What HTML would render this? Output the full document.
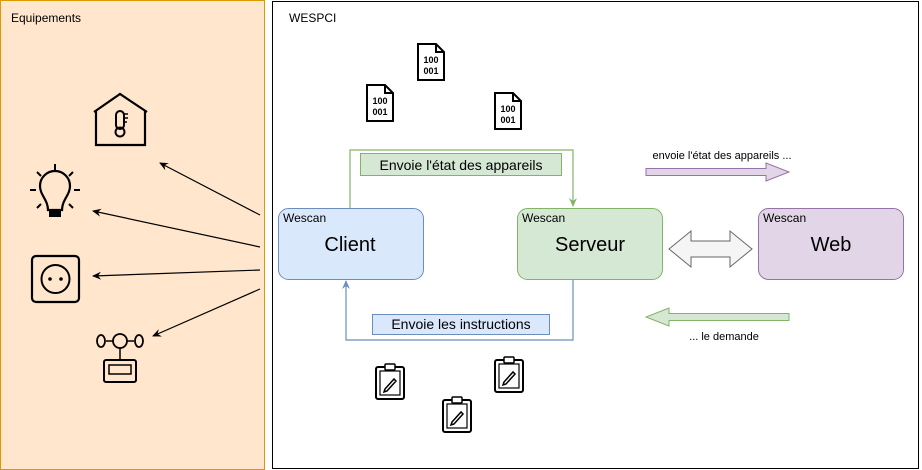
<!DOCTYPE html>
<html><head><meta charset="utf-8"><style>
html,body{margin:0;padding:0;background:#fff;}
svg{display:block;font-family:"Liberation Sans",Arial,sans-serif;}
</style></head><body>
<svg width="922" height="470" viewBox="0 0 922 470" xmlns="http://www.w3.org/2000/svg">
<defs>
<marker id="ab" markerWidth="10" markerHeight="10" refX="8" refY="5" orient="auto" markerUnits="userSpaceOnUse"><path d="M0,1 L9,5 L0,9 L3,5z" fill="#000"/></marker>
<marker id="ag" markerWidth="10" markerHeight="10" refX="8" refY="5" orient="auto" markerUnits="userSpaceOnUse"><path d="M0,1 L9,5 L0,9 L3,5z" fill="#82b366"/></marker>
<marker id="al" markerWidth="10" markerHeight="10" refX="8" refY="5" orient="auto" markerUnits="userSpaceOnUse"><path d="M0,1 L9,5 L0,9 L3,5z" fill="#6c8ebf"/></marker>
<g id="file"><path d="M0,0 H18 L26,8 V36 H0Z M18,0 V8 H26" fill="#fff" stroke="#000" stroke-width="2"/><text x="13" y="19" font-size="9" font-weight="bold" text-anchor="middle">100</text><text x="13" y="30" font-size="9" font-weight="bold" text-anchor="middle">001</text></g>
<g id="clip"><rect x="0" y="4" width="28" height="32" rx="2" fill="#fff" stroke="#000" stroke-width="2"/><rect x="4" y="8" width="20" height="24" fill="none" stroke="#000" stroke-width="1.2"/><rect x="9" y="1" width="10" height="6" rx="1" fill="#fff" stroke="#000" stroke-width="1.5"/><path d="M9,26 L18,16 L20,18 L11,28 L8,29Z" fill="none" stroke="#000" stroke-width="1.5"/></g>
</defs>
<rect x="0.5" y="0.5" width="264" height="469" fill="#ffe6cc" stroke="#d79b00"/>
<text x="11" y="22" font-size="12">Equipements</text>
<rect x="272.5" y="1.5" width="646" height="467" fill="#fff" stroke="#000"/>
<text x="289" y="22" font-size="12">WESPCI</text>

<!-- house -->
<path d="M94,112 L120,94 L147,112 M96,110 V145 H145 V110" fill="none" stroke="#000" stroke-width="2.2"/>
<rect x="116" y="111" width="8" height="18" rx="4" fill="none" stroke="#000" stroke-width="2"/>
<circle cx="120" cy="132" r="4.5" fill="none" stroke="#000" stroke-width="2"/>
<path d="M124,114 H128 M124,118 H128 M124,122 H127" stroke="#000" stroke-width="1.5"/>
<!-- bulb -->
<path d="M48,210 C48,200 40,195 40,186 A15,15 0 1 1 70,186 C70,195 62,200 62,210Z" fill="none" stroke="#000" stroke-width="2.2"/>
<rect x="49" y="210" width="12" height="7" fill="#000"/>
<path d="M55,164 V171 M30,190 H36 M74,190 H80 M37,172 L41,176 M73,172 L69,176 M37,208 L41,204 M73,208 L69,204" stroke="#000" stroke-width="2"/>
<!-- socket -->
<rect x="32" y="256" width="47" height="46" rx="4" fill="none" stroke="#000" stroke-width="2.2"/>
<circle cx="55.5" cy="279" r="14" fill="none" stroke="#000" stroke-width="2"/>
<circle cx="50" cy="279" r="1.8"/><circle cx="61" cy="279" r="1.8"/>
<!-- anemometer -->
<path d="M106,341 H113 M127,341 H134 M120,348 V360" stroke="#000" stroke-width="1.5"/>
<circle cx="120" cy="341" r="7" fill="none" stroke="#000" stroke-width="1.8"/>
<ellipse cx="101" cy="341" rx="4" ry="6" fill="none" stroke="#000" stroke-width="1.8"/>
<ellipse cx="139" cy="341" rx="4" ry="6" fill="none" stroke="#000" stroke-width="1.8"/>
<rect x="104" y="360" width="32" height="22" rx="2" fill="none" stroke="#000" stroke-width="2"/>
<rect x="109" y="365" width="22" height="9" fill="none" stroke="#000" stroke-width="1.5"/>

<!-- black arrows -->
<g stroke="#000" stroke-width="1.2" marker-end="url(#ab)">
<line x1="260" y1="215" x2="160" y2="163"/>
<line x1="260" y1="247" x2="93" y2="211"/>
<line x1="260" y1="270" x2="93" y2="276"/>
<line x1="260" y1="289" x2="153" y2="336"/>
</g>

<!-- files -->
<use href="#file" x="418" y="44"/>
<use href="#file" x="367" y="85"/>
<use href="#file" x="495" y="93"/>
<!-- clipboards -->
<use href="#clip" x="376" y="363"/>
<use href="#clip" x="443" y="396"/>
<use href="#clip" x="495" y="356"/>

<!-- connectors -->
<path d="M350,208 V150 H573 V206" fill="none" stroke="#82b366" stroke-width="1.2" marker-end="url(#ag)"/>
<rect x="360.5" y="153.5" width="201" height="22" fill="#d5e8d4" stroke="#82b366"/>
<text x="461" y="170" font-size="14" text-anchor="middle">Envoie l'état des appareils</text>
<path d="M573,279 V340 H346 V281" fill="none" stroke="#6c8ebf" stroke-width="1.2" marker-end="url(#al)"/>
<rect x="372.5" y="314.5" width="177" height="20" fill="#dae8fc" stroke="#6c8ebf"/>
<text x="461" y="329" font-size="14" text-anchor="middle">Envoie les instructions</text>

<!-- boxes -->
<rect x="278.5" y="208.5" width="145" height="71" rx="10" fill="#dae8fc" stroke="#6c8ebf"/>
<text x="283" y="222" font-size="12">Wescan</text>
<text x="350" y="251" font-size="20" text-anchor="middle">Client</text>
<rect x="517.5" y="208.5" width="145" height="71" rx="10" fill="#d5e8d4" stroke="#82b366"/>
<text x="522" y="222" font-size="12">Wescan</text>
<text x="590" y="251" font-size="20" text-anchor="middle">Serveur</text>
<rect x="758.5" y="208.5" width="145" height="71" rx="10" fill="#e1d5e7" stroke="#9673a6"/>
<text x="763" y="222" font-size="12">Wescan</text>
<text x="831" y="251" font-size="20" text-anchor="middle">Web</text>

<!-- double arrow -->
<path d="M669,249 L691,231 V241 H730 V231 L752,249 L730,267 V257 H691 V267Z" fill="#f5f5f5" stroke="#666" stroke-width="1"/>
<!-- purple arrow -->
<path d="M646,168.5 H766 V163 L789,172 L766,181 V175.5 H646Z" fill="#e1d5e7" stroke="#9673a6"/>
<text x="722" y="159" font-size="11" text-anchor="middle">envoie l'état des appareils ...</text>
<!-- green left arrow -->
<path d="M789,313.5 H669 V308 L646,317 L669,326 V320.5 H789Z" fill="#d5e8d4" stroke="#82b366"/>
<text x="724" y="340" font-size="11" text-anchor="middle">... le demande</text>
</svg>
</body></html>
